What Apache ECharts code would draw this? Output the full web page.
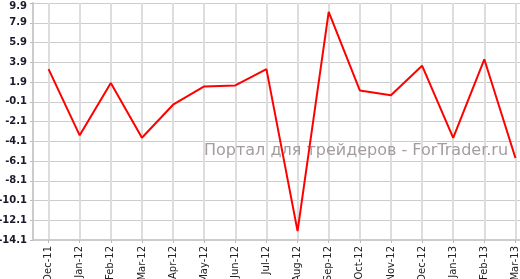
<!DOCTYPE html>
<html><head><meta charset="utf-8">
<script src="https://cdn.jsdelivr.net/npm/echarts@6/dist/echarts.min.js"></script>
<style>html,body{margin:0;padding:0;background:#fff}#c{width:520px;height:279px}</style>
</head><body><div id="c"></div>
<script>
var categories = ["Dec-11","Jan-12","Feb-12","Mar-12","Apr-12","May-12","Jun-12","Jul-12","Aug-12","Sep-12","Oct-12","Nov-12","Dec-12","Jan-13","Feb-13","Mar-13"];
var values = [3.2,-3.5,1.8,-3.75,-0.4,1.45,1.55,3.2,-13.2,9.0,1.05,0.55,3.55,-3.75,4.2,-5.8];
var yMin = -14.1, yMax = 9.9, yStep = 2;
var watermark = "Портал для трейдеров - ForTrader.ru";

var chart = echarts.init(document.getElementById('c'), null, {renderer:'canvas'});
chart.setOption({
  animation:false,
  backgroundColor:'#fff',
  grid:{left:33,right:-11,top:3,bottom:39,containLabel:false,outerBoundsMode:'none'},
  xAxis:{
    type:'category', data:categories, boundaryGap:true,
    axisLine:{show:true,onZero:false,lineStyle:{color:'#cccccc',width:2}},
    axisTick:{show:true,alignWithLabel:true,length:3,lineStyle:{color:'#bbbbbb'}},
    axisLabel:{rotate:90,fontSize:10,fontFamily:'DejaVu Sans',color:'#222',margin:6,interval:0},
    splitLine:{show:true,alignWithLabel:true,lineStyle:{color:'#dddddd',width:2}}
  },
  yAxis:{
    type:'value', min:yMin, max:yMax, interval:yStep,
    axisLine:{show:true,lineStyle:{color:'#cccccc',width:2}},
    axisTick:{show:true,length:3,lineStyle:{color:'#bbbbbb'}},
    axisLabel:{fontSize:10,fontWeight:'bold',fontFamily:'DejaVu Sans',color:'#1a1a2a',margin:6,
      formatter:function(v){var s=v.toFixed(1); return Math.abs(v-yMax)<1e-6 ? '{top|'+s+'}' : s;},
      rich:{top:{fontSize:10,fontWeight:'bold',fontFamily:'DejaVu Sans',color:'#1a1a2a',padding:[6,0,0,0]}}},
    splitLine:{show:true,lineStyle:{color:'#cccccc',width:1}}
  },
  graphic:[{type:'text',x:204,y:143,silent:true,z:1,
    style:{text:watermark,font:'16px "DejaVu Sans"',fill:'#a59d9d',verticalAlign:'top'}}],
  series:[{type:'line',data:values,showSymbol:false,symbol:'none',z:5,
    lineStyle:{color:'#ff0000',width:2},itemStyle:{color:'#ff0000'}}]
});
</script></body></html>
